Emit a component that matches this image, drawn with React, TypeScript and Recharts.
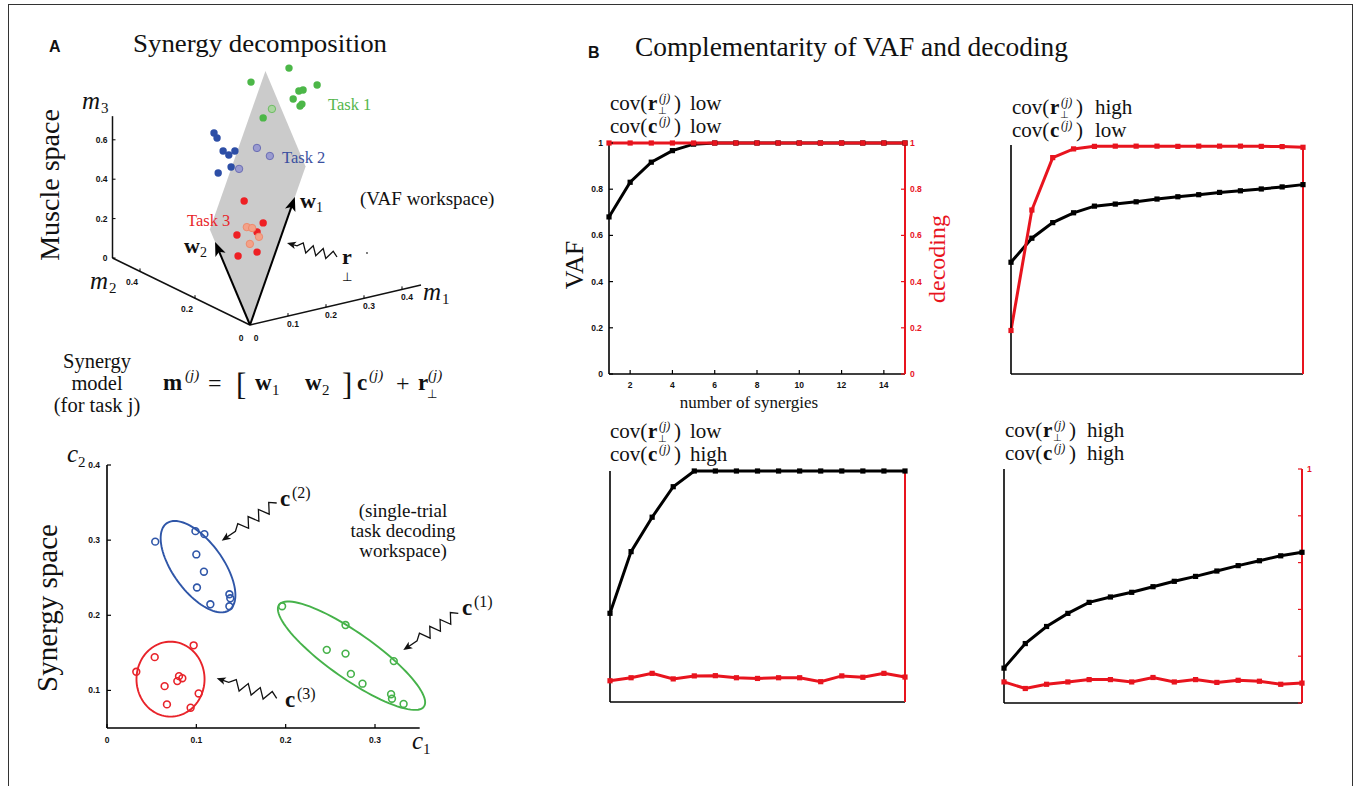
import React from 'react';
import { LineChart, Line, XAxis, YAxis, ScatterChart, Scatter, ReferenceLine } from 'recharts';

const SERIF = '"Liberation Serif", "Times New Roman", serif';
const SANS = '"Liberation Sans", Arial, sans-serif';
const RED = '#e8141e';
const GREEN = '#46b24a';
const BLUE = '#2c4fa3';
const PTRED = '#e8232a';

// ---------------- Panel B data ----------------
const synergyCounts = [1, 2, 3, 4, 5, 6, 7, 8, 9, 10, 11, 12, 13, 14, 15];
const xTicksB = [2, 4, 6, 8, 10, 12, 14];
const yTicksB = [0, 0.2, 0.4, 0.6, 0.8, 1];
const vafLowLow = [0.68, 0.83, 0.917, 0.967, 0.995, 1, 1, 1, 1, 1, 1, 1, 1, 1, 1];
const decLowLow = [1, 1, 1, 1, 1, 1, 1, 1, 1, 1, 1, 1, 1, 1, 1];
const vafHighLow = [0.488, 0.593, 0.661, 0.704, 0.733, 0.742, 0.752, 0.764, 0.774, 0.783, 0.793, 0.8, 0.808, 0.817, 0.827];
const decHighLow = [0.19, 0.716, 0.945, 0.983, 0.994, 0.995, 0.995, 0.995, 0.994, 0.995, 0.995, 0.995, 0.994, 0.993, 0.99];
const vafLowHigh = [0.384, 0.651, 0.8, 0.932, 1, 1, 1, 1, 1, 1, 1, 1, 1, 1, 1];
const decLowHigh = [0.092, 0.105, 0.124, 0.1, 0.113, 0.114, 0.105, 0.102, 0.105, 0.105, 0.088, 0.113, 0.107, 0.124, 0.108];
const vafHighHigh = [0.149, 0.254, 0.327, 0.383, 0.43, 0.453, 0.473, 0.497, 0.52, 0.541, 0.564, 0.587, 0.608, 0.629, 0.644];
const decHighHigh = [0.09, 0.062, 0.08, 0.09, 0.1, 0.1, 0.09, 0.109, 0.09, 0.1, 0.088, 0.097, 0.093, 0.08, 0.085];

// ---------------- Panel A: muscle space (m1, m2, m3) ----------------
const synergyW1 = [0.118, 0, 0.596];
const synergyW2 = [0, 0.127, 0.335];
const planeScale = [1.24, 1.15];
const m1AxisLength = 0.45;
const m2AxisLength = 0.5;
const m3AxisLength = 0.72;
const m1Ticks = [0.1, 0.2, 0.3, 0.4];
const m2Ticks = [0.2, 0.4];
const m3Ticks = [0, 0.2, 0.4, 0.6];
const task1Muscle = [
  [0.175, 0.1, 1.157], [0.075, 0.1, 1.131], [0.201, 0.1, 1.029], [0.212, 0.1, 1.029], [0.249, 0.1, 1.038],
  [0.186, 0.1, 0.995], [0.209, 0.1, 0.959], [0.204, 0.1, 0.951], [0.107, 0.1, 0.935],
];
const task1InPlane = [[0.13, 0.1, 0.97]];
const task2Muscle = [
  [0.05, 0.2, 0.816], [0.058, 0.2, 0.787], [0.074, 0.2, 0.714], [0.089, 0.2, 0.687], [0.105, 0.2, 0.7],
  [0.095, 0.2, 0.623], [0.061, 0.2, 0.608],
];
const task2InPlane = [[0.116, 0.2, 0.604], [0.163, 0.2, 0.689], [0.197, 0.2, 0.633]];
const task3Muscle = [
  [0.057, 0.1, 0.536], [0.107, 0.1, 0.402], [0.038, 0.1, 0.372], [0.091, 0.1, 0.363], [0.041, 0.1, 0.264], [0.091, 0.1, 0.261],
];
const task3InPlane = [[0.064, 0.1, 0.4], [0.078, 0.1, 0.389], [0.096, 0.1, 0.336], [0.072, 0.1, 0.311]];

// ---------------- Panel A: synergy space (c1, c2) ----------------
const c1Ticks = [0, 0.1, 0.2, 0.3];
const c2Ticks = [0.1, 0.2, 0.3, 0.4];
const task1Synergy = [
  [0.196, 0.212], [0.267, 0.187], [0.246, 0.154], [0.267, 0.149], [0.273, 0.122],
  [0.286, 0.109], [0.321, 0.139], [0.318, 0.095], [0.319, 0.089], [0.332, 0.082],
];
const task2Synergy = [
  [0.054, 0.298], [0.099, 0.312], [0.109, 0.308], [0.1, 0.281], [0.1085, 0.258],
  [0.1007, 0.237], [0.137, 0.228], [0.138, 0.2226], [0.137, 0.212], [0.1157, 0.2146],
];
const task3Synergy = [
  [0.0328, 0.1248], [0.0534, 0.1443], [0.097, 0.16], [0.0645, 0.1057], [0.0806, 0.119],
  [0.0843, 0.1163], [0.0787, 0.1124], [0.1026, 0.096], [0.0671, 0.0814], [0.0936, 0.077],
];
// ellipse: centre, conjugate semi-axis vectors (data units)
const task1Ellipse = { c: [0.2737, 0.1462], a: [0.0811, -0.0677], b: [-0.0148, -0.025] };
const task2Ellipse = { c: [0.1019, 0.2647], a: [0.0352, -0.0576], b: [-0.0226, -0.0196] };
const task3Ellipse = { c: [0.0711, 0.115], a: [0, 0.0499], b: [0.0381, 0] };

// ---------------- helpers ----------------
const proj = (m: number[]) => ({ u: 380 * m[0] - 275 * m[1], v: 89 * m[0] + 134 * m[1] + 197 * m[2] });
const add = (a: number[], b: number[], s1 = 1, s2 = 1) => a.map((x, i) => s1 * x + s2 * b[i]);

const ellipsePts = (e: any) =>
  Array.from({ length: 97 }, (_, k) => {
    const t = (2 * Math.PI * k) / 96;
    return { x: e.c[0] + e.a[0] * Math.cos(t) + e.b[0] * Math.sin(t), y: e.c[1] + e.a[1] * Math.cos(t) + e.b[1] * Math.sin(t) };
  });

const noShape = () => <g />;

const arrowHead = (x1: number, y1: number, x2: number, y2: number, len: number, hw: number, fill = '#000') => {
  const L = Math.hypot(x2 - x1, y2 - y1);
  const ux = (x2 - x1) / L, uy = (y2 - y1) / L;
  const bx = x2 - ux * len, by = y2 - uy * len;
  const nx = -uy, ny = ux;
  return <polygon points={`${x2},${y2} ${bx + nx * hw},${by + ny * hw} ${bx + ux * len * 0.25},${by + uy * len * 0.25} ${bx - nx * hw},${by - ny * hw}`} fill={fill} />;
};

const zigzag = (tail: number[], tip: number[], teeth: number, amp: number, straight: number) => {
  const dx = tip[0] - tail[0], dy = tip[1] - tail[1];
  const L = Math.hypot(dx, dy);
  const ux = dx / L, uy = dy / L, nx = -uy, ny = ux;
  const zl = L * (1 - straight);
  const pts: number[][] = [tail];
  const n = teeth * 2;
  for (let i = 1; i <= n; i++) {
    const s = (zl * i) / n;
    const o = i === n ? 0 : i % 2 ? amp : -amp;
    pts.push([tail[0] + ux * s + nx * o, tail[1] + uy * s + ny * o]);
  }
  pts.push(tip);
  const last = pts[pts.length - 2];
  return (
    <g>
      <polyline points={pts.slice(0, -1).map((p) => p.join(',')).join(' ') + ` ${tip[0] - ux * 6},${tip[1] - uy * 6}`} fill="none" stroke="#111" strokeWidth={1.3} />
      {arrowHead(last[0], last[1], tip[0], tip[1], 9, 3.8, '#111')}
    </g>
  );
};

// ---------------- Muscle-space 3D view ----------------
function MuscleSpace() {
  const origin = [0, 0, 0];
  const planeCorners = [origin, add(origin, synergyW1, 1, planeScale[0]), add(add(origin, synergyW1, 1, planeScale[0]), synergyW2, 1, planeScale[1]), add(origin, synergyW2, 1, planeScale[1])].map(proj);
  const m1Axis = [origin, [m1AxisLength, 0, 0]].map(proj);
  const m2Axis = [origin, [0, m2AxisLength, 0]].map(proj);
  const m3Axis = [[0, m2AxisLength, 0], [0, m2AxisLength, m3AxisLength]].map(proj);
  const w1Arrow = [origin, synergyW1].map(proj);
  const w2Arrow = [origin, synergyW2].map(proj);
  const tickItems = [
    ...m1Ticks.map((t) => ({ ...proj([t, 0, 0]), label: String(t), tx: 0, ty: -3, lx: 5, ly: 11, anchor: 'middle' })),
    ...m2Ticks.map((t) => ({ ...proj([0, t, 0]), label: String(t), tx: 0, ty: -3, lx: -8, ly: 14, anchor: 'middle' })),
    ...m3Ticks.map((t) => ({ ...proj([0, m2AxisLength, t]), label: String(t), tx: 3, ty: 0, lx: -5, ly: 3, anchor: 'end' })),
    { ...proj(origin), label: '0', tx: 0, ty: 0, lx: -9, ly: 16, anchor: 'middle' },
    { ...proj(origin), label: '0', tx: 0, ty: 0, lx: 6, ly: 16, anchor: 'middle' },
  ];
  const tickShape = (p: any) => {
    const d = p.payload;
    return (
      <g>
        {(d.tx || d.ty) ? <line x1={p.cx} y1={p.cy} x2={p.cx + d.tx} y2={p.cy + d.ty} stroke="#000" strokeWidth={1} /> : null}
        <text x={p.cx + d.lx} y={p.cy + d.ly} textAnchor={d.anchor} fontSize={8.5} fontWeight={700} fontFamily={SANS} fill="#111">{d.label}</text>
      </g>
    );
  };
  const axisLine = (p: any) => <line x1={p.points[0].x} y1={p.points[0].y} x2={p.points[1].x} y2={p.points[1].y} stroke="#111" strokeWidth={1.5} />;
  const vecLine = (p: any) => {
    const [a, b] = p.points;
    const L = Math.hypot(b.x - a.x, b.y - a.y);
    const ux = (b.x - a.x) / L, uy = (b.y - a.y) / L;
    return (
      <g>
        <line x1={a.x} y1={a.y} x2={b.x - ux * 8} y2={b.y - uy * 8} stroke="#000" strokeWidth={2} />
        {arrowHead(a.x, a.y, b.x, b.y, 14, 5.5)}
      </g>
    );
  };
  const planeShape = (p: any) => <polygon points={p.points.map((q: any) => `${q.x},${q.y}`).join(' ')} fill="#cbcbcb" />;
  const dot = (fill: string, stroke?: string) => (p: any) => <circle cx={p.cx} cy={p.cy} r={3.7} fill={fill} stroke={stroke || 'none'} strokeWidth={1} />;

  return (
    <div style={{ position: 'absolute', left: 90, top: 45 }}>
      <ScatterChart width={420} height={310} margin={{ top: 0, right: 0, bottom: 0, left: 0 }}>
        <XAxis type="number" dataKey="u" domain={[-160, 260]} hide height={0} />
        <YAxis type="number" dataKey="v" domain={[-30, 280]} hide width={0} />
        <Scatter data={planeCorners} shape={noShape} line={planeShape} lineType="joint" isAnimationActive={false} />
        <Scatter data={m1Axis} shape={noShape} line={axisLine} lineType="joint" isAnimationActive={false} />
        <Scatter data={m2Axis} shape={noShape} line={axisLine} lineType="joint" isAnimationActive={false} />
        <Scatter data={m3Axis} shape={noShape} line={axisLine} lineType="joint" isAnimationActive={false} />
        <Scatter data={tickItems} shape={tickShape} isAnimationActive={false} />
        <Scatter data={task1Muscle.map(proj)} shape={dot('#4cb748')} isAnimationActive={false} />
        <Scatter data={task2Muscle.map(proj)} shape={dot('#2d4ea6')} isAnimationActive={false} />
        <Scatter data={task3Muscle.map(proj)} shape={dot('#ee2024')} isAnimationActive={false} />
        <Scatter data={task1InPlane.map(proj)} shape={dot('#a9d69f', '#6dbb63')} isAnimationActive={false} />
        <Scatter data={task2InPlane.map(proj)} shape={dot('#9a9bd0', '#6a6db3')} isAnimationActive={false} />
        <Scatter data={task3InPlane.map(proj)} shape={dot('#f3a289', '#ee8a6c')} isAnimationActive={false} />
        <Scatter data={w1Arrow} shape={noShape} line={vecLine} lineType="joint" isAnimationActive={false} />
        <Scatter data={w2Arrow} shape={noShape} line={vecLine} lineType="joint" isAnimationActive={false} />
      </ScatterChart>
    </div>
  );
}

// ---------------- Synergy-space scatter ----------------
function SynergySpace() {
  const toXY = (a: number[]) => ({ x: a[0], y: a[1] });
  const circ = (color: string) => (p: any) => <circle cx={p.cx} cy={p.cy} r={3.4} fill="none" stroke={color} strokeWidth={1.6} />;
  const tickStyle = { fill: '#111', fontSize: 8.5, fontWeight: 700, fontFamily: SANS };
  const pxPerX = 893.4;
  const plotW = 0.36 * pxPerX;
  return (
    <div style={{ position: 'absolute', left: 107.3 - 40, top: 465 - 10 }}>
      <ScatterChart width={40 + plotW + 10} height={10 + 263 + 30} margin={{ top: 10, right: 10, bottom: 0, left: 0 }}>
        <XAxis type="number" dataKey="x" domain={[0, 0.36]} ticks={c1Ticks} height={30} axisLine={false} tickSize={-4} tickMargin={12.5} tickLine={{ stroke: '#000', strokeWidth: 1.2 }} tick={tickStyle} />
        <YAxis type="number" dataKey="y" domain={[0.05, 0.4]} ticks={c2Ticks} width={40} tickSize={-4} tickMargin={11} axisLine={{ stroke: '#000', strokeWidth: 1.6 }} tickLine={{ stroke: '#000', strokeWidth: 1.2 }} tick={tickStyle} />
        <ReferenceLine segment={[{ x: 0, y: 0.05 }, { x: 0.35, y: 0.05 }]} stroke="#000" strokeWidth={1.6} ifOverflow="visible" />
        <Scatter data={ellipsePts(task1Ellipse)} fill={GREEN} shape={noShape} line={{ stroke: GREEN, strokeWidth: 1.9 }} lineType="joint" isAnimationActive={false} />
        <Scatter data={ellipsePts(task2Ellipse)} fill={BLUE} shape={noShape} line={{ stroke: '#2f56a8', strokeWidth: 1.9 }} lineType="joint" isAnimationActive={false} />
        <Scatter data={ellipsePts(task3Ellipse)} fill={PTRED} shape={noShape} line={{ stroke: PTRED, strokeWidth: 1.9 }} lineType="joint" isAnimationActive={false} />
        <Scatter data={task1Synergy.map(toXY)} shape={circ(GREEN)} isAnimationActive={false} />
        <Scatter data={task2Synergy.map(toXY)} shape={circ('#2f56a8')} isAnimationActive={false} />
        <Scatter data={task3Synergy.map(toXY)} shape={circ(PTRED)} isAnimationActive={false} />
      </ScatterChart>
    </div>
  );
}

// ---------------- Panel B line charts ----------------
const square = (color: string) => (p: any) => <rect x={p.cx - 2.6} y={p.cy - 2.6} width={5.2} height={5.2} fill={color} />;
const tickFont = { fontSize: 8.5, fontWeight: 700, fontFamily: SANS };

function CovChart({ plot, vaf, dec, leftLabels, rightMode, xLabels }: any) {
  const wL = 36, wR = 36, mT = 12, hX = 30;
  const rows = synergyCounts.map((n, i) => ({ n, vaf: vaf[i], dec: dec[i] }));
  const rightTick =
    rightMode === 'all'
      ? { ...tickFont, fill: RED }
      : rightMode === 'one'
      ? (p: any) => (p.payload.value === 1 ? <text x={p.x} y={p.y} dy={3} fill={RED} fontSize={8.5} fontWeight={700} fontFamily={SANS} textAnchor="start">1</text> : <g />)
      : false;
  return (
    <div style={{ position: 'absolute', left: plot.x - wL, top: plot.y - mT }}>
      <LineChart width={wL + plot.w + wR} height={mT + plot.h + hX} data={rows} margin={{ top: mT, right: 0, bottom: 0, left: 0 }}>
        <XAxis dataKey="n" type="number" domain={[1, 15]} ticks={xTicksB} height={hX} tickSize={-4} tickMargin={12} axisLine={{ stroke: '#000', strokeWidth: 1.6 }} tickLine={{ stroke: '#000', strokeWidth: 1.2 }} tick={xLabels ? { ...tickFont, fill: '#111' } : false} />
        <YAxis yAxisId="vaf" type="number" domain={[0, 1]} ticks={yTicksB} width={wL} tickSize={-4} tickMargin={10} axisLine={{ stroke: '#000', strokeWidth: 1.6 }} tickLine={{ stroke: '#000', strokeWidth: 1.2 }} tick={leftLabels ? { ...tickFont, fill: '#111' } : false} />
        <YAxis yAxisId="dec" orientation="right" type="number" domain={[0, 1]} ticks={yTicksB} width={wR} tickSize={-4} tickMargin={9} axisLine={{ stroke: RED, strokeWidth: 2 }} tickLine={{ stroke: RED, strokeWidth: 1.2 }} tick={rightTick} />
        <Line yAxisId="vaf" dataKey="vaf" type="linear" stroke="#000" strokeWidth={3} dot={square('#000')} activeDot={false} isAnimationActive={false} />
        <Line yAxisId="dec" dataKey="dec" type="linear" stroke={RED} strokeWidth={3} dot={square(RED)} activeDot={false} isAnimationActive={false} />
      </LineChart>
    </div>
  );
}

// ---------------- text helpers ----------------
function CovTitle({ x, y, sym, level, levelDx }: any) {
  return (
    <g fontFamily={SERIF} fill="#111">
      <text x={x} y={y} fontSize={21}>cov(</text>
      <text x={x + 38} y={y} fontSize={21} fontWeight={700}>{sym}</text>
      {sym === 'r' ? <text x={x + 48} y={y + 4} fontSize={10}>⊥</text> : null}
      <text x={x + 49} y={y - 8} fontSize={12} fontStyle="italic">(j)</text>
      <text x={x + 64} y={y} fontSize={21}>)</text>
      <text x={x + levelDx} y={y} fontSize={21}>{level}</text>
    </g>
  );
}

function Overlay() {
  return (
    <svg width={1356} height={786} style={{ position: 'absolute', left: 0, top: 0, pointerEvents: 'none' }}>
      {/* headings */}
      <text x={49} y={52} fontFamily={SANS} fontWeight={700} fontSize={16} fill="#111">A</text>
      <text x={133} y={52} fontFamily={SERIF} fontSize={26} fill="#111" textLength={254} lengthAdjust="spacingAndGlyphs">Synergy decomposition</text>
      <text x={588} y={58} fontFamily={SANS} fontWeight={700} fontSize={16} fill="#111">B</text>
      <text x={635} y={56} fontFamily={SERIF} fontSize={28} fill="#111" textLength={433} lengthAdjust="spacingAndGlyphs">Complementarity of VAF and decoding</text>

      {/* rotated panel labels */}
      <text transform="translate(59,185) rotate(-90)" textAnchor="middle" fontFamily={SERIF} fontSize={28} fill="#111">Muscle space</text>
      <text transform="translate(57,608) rotate(-90)" textAnchor="middle" fontFamily={SERIF} fontSize={29} fill="#111">Synergy space</text>

      {/* muscle space labels */}
      <text x={82} y={109} fontFamily={SERIF} fontStyle="italic" fontSize={25} fill="#111">m</text>
      <text x={101} y={113} fontFamily={SERIF} fontSize={15} fill="#111">3</text>
      <text x={90} y={289} fontFamily={SERIF} fontStyle="italic" fontSize={25} fill="#111">m</text>
      <text x={109} y={293} fontFamily={SERIF} fontSize={15} fill="#111">2</text>
      <text x={423} y={300} fontFamily={SERIF} fontStyle="italic" fontSize={25} fill="#111">m</text>
      <text x={442} y={304} fontFamily={SERIF} fontSize={15} fill="#111">1</text>
      <text x={328} y={110} fontFamily={SERIF} fontSize={16.5} fill="#55b64c">Task 1</text>
      <text x={282} y={163} fontFamily={SERIF} fontSize={16.5} fill="#3a50a0">Task 2</text>
      <text x={187} y={226} fontFamily={SERIF} fontSize={16.5} fill="#e8262a">Task 3</text>
      <text x={300} y={208} fontFamily={SERIF} fontWeight={700} fontSize={22} fill="#111">w</text>
      <text x={316} y={212} fontFamily={SERIF} fontSize={14} fill="#111">1</text>
      <text x={184} y={253} fontFamily={SERIF} fontWeight={700} fontSize={22} fill="#111">w</text>
      <text x={200} y={257} fontFamily={SERIF} fontSize={14} fill="#111">2</text>
      <text x={360} y={205} fontFamily={SERIF} fontSize={19} fill="#111">(VAF workspace)</text>
      <text x={342} y={264} fontFamily={SERIF} fontWeight={700} fontSize={22} fill="#111">r</text>
      <text x={342} y={281} fontFamily={SERIF} fontSize={12} fill="#111">⊥</text>
      <circle cx={367} cy={253} r={0.9} fill="#444" />
      {zigzag([337, 257], [287, 243], 4, 4.5, 0.2)}

      {/* synergy model */}
      <g fontFamily={SERIF} fontSize={20.5} fill="#111" textAnchor="middle">
        <text x={97} y={368}>Synergy</text>
        <text x={97} y={390}>model</text>
        <text x={97} y={412}>(for task j)</text>
      </g>
      <g fontFamily={SERIF} fill="#111">
        <text x={163} y={390} fontSize={23} fontWeight={700}>m</text>
        <text x={185} y={380} fontSize={15} fontStyle="italic">(j)</text>
        <text x={208} y={391} fontSize={24}>=</text>
        <text x={236} y={395} fontSize={31} fontWeight={300}>[</text>
        <text x={255} y={390} fontSize={23} fontWeight={700}>w</text>
        <text x={272} y={395} fontSize={15}>1</text>
        <text x={305} y={390} fontSize={23} fontWeight={700}>w</text>
        <text x={322} y={395} fontSize={15}>2</text>
        <text x={342} y={395} fontSize={31} fontWeight={300}>]</text>
        <text x={357} y={390} fontSize={23} fontWeight={700}>c</text>
        <text x={369} y={380} fontSize={15} fontStyle="italic">(j)</text>
        <text x={396} y={391} fontSize={24}>+</text>
        <text x={418} y={390} fontSize={23} fontWeight={700}>r</text>
        <text x={427} y={398} fontSize={12}>⊥</text>
        <text x={428} y={380} fontSize={15} fontStyle="italic">(j)</text>
      </g>

      {/* synergy space labels */}
      <text x={67} y={462} fontFamily={SERIF} fontStyle="italic" fontSize={25} fill="#111">c</text>
      <text x={78} y={467} fontFamily={SERIF} fontSize={15} fill="#111">2</text>
      <text x={412} y={749} fontFamily={SERIF} fontStyle="italic" fontSize={25} fill="#111">c</text>
      <text x={423} y={754} fontFamily={SERIF} fontSize={15} fill="#111">1</text>
      <g fontFamily={SERIF} fontSize={19} fill="#111" textAnchor="middle">
        <text x={403} y={517}>(single-trial</text>
        <text x={403} y={537}>task decoding</text>
        <text x={403} y={557}>workspace)</text>
      </g>
      <g fontFamily={SERIF} fill="#111">
        <text x={280} y={506} fontSize={23} fontWeight={700}>c</text>
        <text x={292} y={498} fontSize={16}>(2)</text>
        <text x={462} y={615} fontSize={23} fontWeight={700}>c</text>
        <text x={474} y={607} fontSize={16}>(1)</text>
        <text x={285} y={707} fontSize={23} fontWeight={700}>c</text>
        <text x={297} y={699} fontSize={16}>(3)</text>
      </g>
      {zigzag([276.7, 503], [221.7, 540.7], 4, 5, 0.25)}
      {zigzag([458.3, 613.3], [403.3, 650], 4, 5, 0.25)}
      {zigzag([276.7, 698.3], [216.7, 678.3], 4, 5, 0.2)}

      {/* panel B titles */}
      <CovTitle x={610} y={110} sym="r" level="low" levelDx={80} />
      <CovTitle x={610} y={133} sym="c" level="low" levelDx={80} />
      <CovTitle x={1012} y={114} sym="r" level="high" levelDx={83} />
      <CovTitle x={1012} y={137} sym="c" level="low" levelDx={83} />
      <CovTitle x={610} y={438} sym="r" level="low" levelDx={80} />
      <CovTitle x={610} y={461} sym="c" level="high" levelDx={80} />
      <CovTitle x={1005} y={437} sym="r" level="high" levelDx={82} />
      <CovTitle x={1005} y={460} sym="c" level="high" levelDx={82} />

      <text transform="translate(583,265) rotate(-90)" textAnchor="middle" fontFamily={SERIF} fontSize={26} fill="#111">VAF</text>
      <text transform="translate(945,259) rotate(-90)" textAnchor="middle" fontFamily={SERIF} fontSize={24} fill={RED}>decoding</text>
      <text x={749} y={408} textAnchor="middle" fontFamily={SERIF} fontSize={17} fill="#111">number of synergies</text>
    </svg>
  );
}

export default function App() {
  return (
    <div style={{ position: 'absolute', left: 0, top: 0, width: 1356, height: 786, overflow: 'hidden', background: '#fff' }}>
      <div style={{ position: 'absolute', left: 8, top: 4, width: 1343, height: 800, borderTop: '1.5px solid #333', borderLeft: '1.5px solid #333', borderRight: '1.5px solid #333' }} />
      <MuscleSpace />
      <SynergySpace />
      <CovChart plot={{ x: 609, y: 143, w: 296, h: 231 }} vaf={vafLowLow} dec={decLowLow} leftLabels rightMode="all" xLabels />
      <CovChart plot={{ x: 1011, y: 145, w: 292, h: 229 }} vaf={vafHighLow} dec={decHighLow} leftLabels={false} rightMode="none" xLabels={false} />
      <CovChart plot={{ x: 610, y: 471, w: 295, h: 231 }} vaf={vafLowHigh} dec={decLowHigh} leftLabels={false} rightMode="none" xLabels={false} />
      <CovChart plot={{ x: 1004, y: 469, w: 298, h: 234 }} vaf={vafHighHigh} dec={decHighHigh} leftLabels={false} rightMode="one" xLabels={false} />
      <Overlay />
    </div>
  );
}
